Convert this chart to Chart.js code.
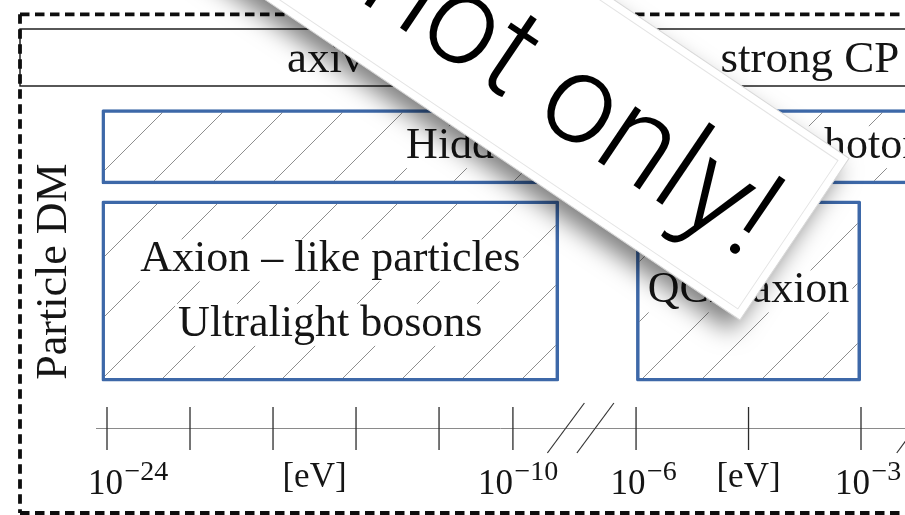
<!DOCTYPE html>
<html>
<head>
<meta charset="utf-8">
<title>Particle DM</title>
<script src="https://cdn.jsdelivr.net/npm/chart.js@4.4.1/dist/chart.umd.min.js"></script>
<style>
  html, body { margin: 0; padding: 0; background: #fff; overflow: hidden; }
  canvas { display: block; }
</style>
</head>
<body>
<canvas id="c" width="905" height="515"></canvas>
<script>
// ---- mass axis, values are log10(m / eV) ----
const TICK_MASSES    = [-24, -21, -18, -15, -12, -10, -6, -4.5, -3];
const TICK_EXPONENTS = ['24', null, null, null, null, '10', '6', null, '3'];
const UNIT_MARKS     = [-16.5, -4.5];        // where "[eV]" is written
const AXIS_BREAKS    = [-7.8, -2.1];         // "//" cuts in the axis

// ---- candidate mass ranges, log10(m / eV) ----
const ROWS          = ['Hidden photon – dark photon', 'Axion – like particles · QCD axion'];
const HIDDEN_PHOTON = [-24.2, 1.8];
const AXION_LIKE    = [-24.2, -8.5];
const QCD_AXION     = [-6, -3];

const HIDDEN_LABEL = ['Hidden photon – dark photon'];
const ALP_LABEL    = ['Axion – like particles', 'Ultralight bosons'];
const QCD_LABEL    = ['QCD axion'];

const HEADER     = ['axiverse', 'strong CP'];
const SIDE_TITLE = 'Particle DM';
const STICKER    = 'not only!';

// Broken mass axis: piecewise-linear map from log10(m) to axis units.
const AXIS_KNOTS = [[-24, 0], [-12, 12], [-10, 14.67], [-6, 19.12], [-3, 27.25], [2, 41.1]];
function axisPos(m) {
  const k = AXIS_KNOTS;
  let i = 0;
  while (i < k.length - 2 && m > k[i + 1][0]) i++;
  const [m0, u0] = k[i], [m1, u1] = k[i + 1];
  return u0 + (m - m0) * (u1 - u0) / (m1 - m0);
}

const canvas = document.getElementById('c');
const ctx0 = canvas.getContext('2d');

// diagonal hatching tile; phase sets where the strokes fall
function hatch(phase) {
  const t = document.createElement('canvas');
  t.width = t.height = 60;
  const g = t.getContext('2d');
  g.strokeStyle = 'rgba(60,60,60,0.58)';
  g.lineWidth = 1;
  for (let k = -1; k <= 2; k++) {
    const s = phase + 60 * k;
    g.beginPath();
    g.moveTo(-10, s + 10);
    g.lineTo(s + 10, -10);
    g.stroke();
  }
  return ctx0.createPattern(t, 'repeat');
}

const BLUE = '#3d68a8';
const INK = '#151515';
const SERIF = '"Liberation Serif", "Times New Roman", serif';

const boxStyle = {
  borderColor: BLUE,
  borderWidth: 3.5,
  borderSkipped: false,
  borderRadius: 1.5,
  inflateAmount: 0,
  grouped: false,
  clip: false
};

const whiteBg = {
  id: 'whiteBg',
  beforeDraw(chart) {
    const c = chart.ctx;
    c.save();
    c.fillStyle = '#fff';
    c.fillRect(0, 0, chart.width, chart.height);
    c.restore();
  }
};

// names written inside each box, on a white patch over the hatching
const boxLabels = {
  id: 'boxLabels',
  afterDatasetsDraw(chart) {
    const c = chart.ctx;
    c.save();
    c.font = '44px ' + SERIF;
    c.textAlign = 'left';
    c.textBaseline = 'alphabetic';
    chart.data.datasets.forEach((ds, di) => {
      const meta = chart.getDatasetMeta(di);
      meta.data.forEach((el, i) => {
        if (ds.data[i] == null) return;
        const p = el.getProps(['x', 'base', 'y'], true);
        const cx = (p.x + p.base) / 2;
        const lines = ds.lines;
        const offs = lines.length === 1 ? [11.5] : [-19.5, 45];
        lines.forEach((txt, li) => {
          const w = c.measureText(txt).width;
          const by = p.y + offs[li];
          c.fillStyle = '#fff';
          c.fillRect(cx - w / 2 - 3, by - 32, w + 6, 42);
          c.fillStyle = INK;
          c.fillText(txt, cx - w / 2, by);
        });
      });
    });
    c.restore();
  }
};

const frame = {
  id: 'frame',
  afterDraw(chart) {
    const c = chart.ctx;
    const xs = chart.scales.x;
    const px = m => xs.getPixelForValue(axisPos(m));
    c.save();

    // header band
    c.strokeStyle = '#111';
    c.lineWidth = 1.4;
    c.strokeRect(20, 29, 1000, 57);
    c.fillStyle = INK;
    c.font = '45px ' + SERIF;
    c.textBaseline = 'alphabetic';
    c.textAlign = 'left';
    c.fillText(HEADER[0], 287, 72);
    c.fillText(HEADER[1], 720.5, 72);

    // dashed outline
    c.setLineDash([9.5, 5.5]);
    c.lineWidth = 3.8;
    c.strokeStyle = '#0d0d0d';
    c.beginPath(); c.moveTo(20, 14.3); c.lineTo(1000, 14.3); c.stroke();
    c.beginPath(); c.moveTo(20, 14.3); c.lineTo(20, 513); c.stroke();
    c.beginPath(); c.moveTo(20, 513); c.lineTo(1000, 513); c.stroke();
    c.setLineDash([]);

    // side title
    c.save();
    c.translate(65.5, 271.5);
    c.rotate(-Math.PI / 2);
    c.font = '44px ' + SERIF;
    c.textAlign = 'center';
    c.fillStyle = INK;
    c.fillText(SIDE_TITLE, 0, 0);
    c.restore();

    // mass axis
    const ay = 428.5;
    c.strokeStyle = '#8a8a8a';
    c.lineWidth = 1;
    c.beginPath(); c.moveTo(96, ay); c.lineTo(905, ay); c.stroke();

    c.strokeStyle = '#2b2b2b';
    c.lineWidth = 1.3;
    const nudge = [-19, 0, 0, 0, 0, -35, -25.5, 0, -26];
    TICK_MASSES.forEach((m, i) => {
      const x = px(m);
      c.beginPath(); c.moveTo(x, 407); c.lineTo(x, 450); c.stroke();
      const e = TICK_EXPONENTS[i];
      if (e) {
        const lx = x + nudge[i];
        c.fillStyle = INK;
        c.textAlign = 'left';
        c.font = '35px ' + SERIF;
        c.fillText('10', lx, 494);
        const w = c.measureText('10').width;
        c.font = '28px ' + SERIF;
        c.fillText('\u2212' + e, lx + w + 1.5, 480);
      }
    });

    c.font = '35px ' + SERIF;
    c.textAlign = 'center';
    c.fillStyle = INK;
    UNIT_MARKS.forEach(m => c.fillText('[eV]', px(m), 487));

    c.strokeStyle = '#333';
    c.lineWidth = 1.2;
    AXIS_BREAKS.forEach(m => {
      const bx = px(m);
      [-14.75, 14.75].forEach(d => {
        c.beginPath();
        c.moveTo(bx + d - 18.5, 453);
        c.lineTo(bx + d + 18.5, 403);
        c.stroke();
      });
    });

    // the "not only!" note laid across the figure
    c.save();
    c.translate(740, 320);
    c.rotate(34 * Math.PI / 180);
    c.shadowColor = 'rgba(0,0,0,0.5)';
    c.shadowBlur = 24;
    c.shadowOffsetX = -9;
    c.shadowOffsetY = 11;
    c.fillStyle = '#fff';
    c.fillRect(-760, -195, 760, 195);
    c.shadowColor = 'transparent';
    c.shadowBlur = 0;
    c.shadowOffsetX = 0;
    c.shadowOffsetY = 0;
    c.lineWidth = 1;
    c.strokeStyle = '#d8d8d8';
    c.strokeRect(-760, -195, 760, 195);
    c.strokeStyle = '#e4e4e4';
    c.strokeRect(-752, -187, 744, 179);
    c.fillStyle = '#000';
    c.font = '300 126px Roboto, "Liberation Sans", Arial, sans-serif';
    c.textAlign = 'right';
    c.textBaseline = 'alphabetic';
    c.fillText(STICKER, -30, -52);
    c.restore();

    c.restore();
  }
};

new Chart(canvas, {
  type: 'bar',
  data: {
    labels: ROWS,
    datasets: [
      Object.assign({
        label: HIDDEN_LABEL.join(' '),
        lines: HIDDEN_LABEL,
        data: [HIDDEN_PHOTON.map(axisPos), null],
        barThickness: 75,
        backgroundColor: hatch(35)
      }, boxStyle),
      Object.assign({
        label: ALP_LABEL.join(' / '),
        lines: ALP_LABEL,
        data: [null, AXION_LIKE.map(axisPos)],
        barThickness: 181,
        backgroundColor: hatch(1)
      }, boxStyle),
      Object.assign({
        label: QCD_LABEL.join(' '),
        lines: QCD_LABEL,
        data: [null, QCD_AXION.map(axisPos)],
        barThickness: 181,
        backgroundColor: hatch(1)
      }, boxStyle)
    ]
  },
  options: {
    indexAxis: 'y',
    responsive: false,
    devicePixelRatio: 1,
    animation: false,
    layout: { padding: { left: 0, right: 0, top: 74.5, bottom: 152 } },
    scales: {
      x: { type: 'linear', min: -3.867, max: 28.84, display: false },
      y: { type: 'category', display: false }
    },
    plugins: {
      legend: { display: false },
      tooltip: { enabled: false }
    }
  },
  plugins: [whiteBg, boxLabels, frame]
});
</script>
</body>
</html>
